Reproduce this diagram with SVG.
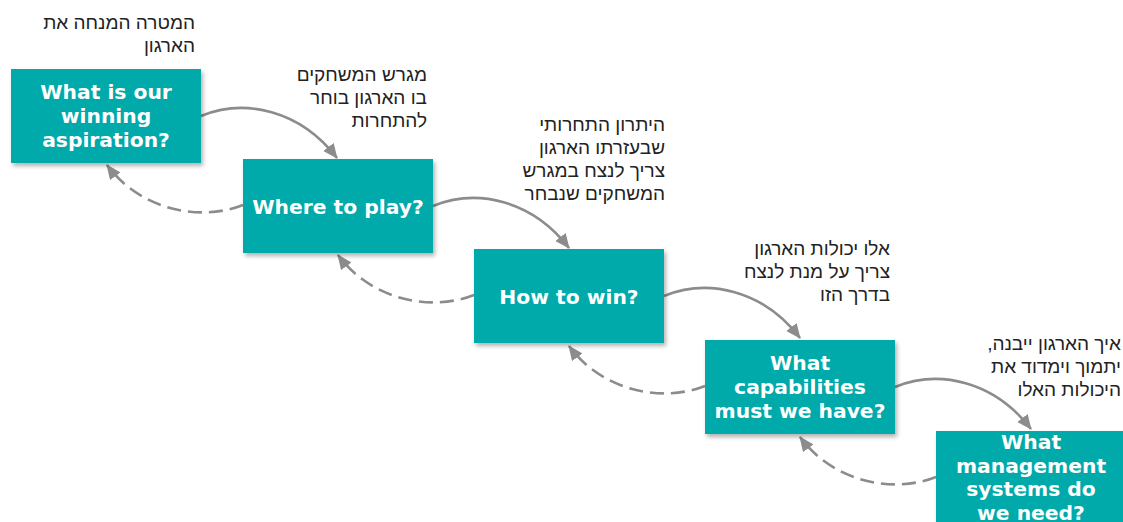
<svg xmlns="http://www.w3.org/2000/svg" width="1123" height="522" viewBox="0 0 1123 522">
<style>
.box{fill:#00AAAA;filter:url(#sh);}
.bt{font-family:"DejaVu Sans",Verdana,sans-serif;font-weight:bold;font-size:20.3px;fill:#fff;text-anchor:middle;}
.he{font-family:"Liberation Sans",Arial,sans-serif;font-size:19px;fill:#222;direction:rtl;text-anchor:start;unicode-bidi:embed;}
.fw{fill:none;stroke:#8C8C8C;stroke-width:2.6;marker-end:url(#ah);}
.bk{fill:none;stroke:#8C8C8C;stroke-width:2.6;stroke-dasharray:14 7;marker-end:url(#ah);}
</style>
<defs>
<filter id="sh" x="-10%" y="-10%" width="125%" height="130%">
<feDropShadow dx="2" dy="3" stdDeviation="2" flood-color="#000" flood-opacity="0.3"/>
</filter>
<marker id="ah" markerUnits="userSpaceOnUse" markerWidth="16" markerHeight="14" refX="14" refY="6.5" orient="auto">
<path d="M0,0 L15,6.5 L0,13 z" fill="#8C8C8C"/>
</marker>
</defs>

<g id="connectors">
<path class="fw" d="M201,116 C245,98 300,110 337,158"/>
<path class="fw" transform="translate(232,90)" d="M201,116 C245,98 300,110 337,158"/>
<path class="fw" transform="translate(463,180)" d="M201,116 C245,98 300,110 337,158"/>
<path class="fw" transform="translate(694,271)" d="M201,116 C245,98 300,110 337,158"/>
<path class="bk" d="M243,205 C200,222 140,210 107,165"/>
<path class="bk" transform="translate(231,90)" d="M243,205 C200,222 140,210 107,165"/>
<path class="bk" transform="translate(462,181)" d="M243,205 C200,222 140,210 107,165"/>
<path class="bk" transform="translate(693,272)" d="M243,205 C200,222 140,210 107,165"/>
</g>

<g id="node1">
<rect class="box" x="11" y="69" width="190" height="94"/>
<text class="bt" x="106"><tspan x="106" y="99">What is our</tspan><tspan x="106" y="123">winning</tspan><tspan x="106" y="147">aspiration?</tspan></text>
</g>
<g id="node2">
<rect class="box" x="243" y="159" width="190" height="94"/>
<text class="bt" x="338" y="214">Where to play?</text>
</g>
<g id="node3">
<rect class="box" x="474" y="249" width="190" height="94"/>
<text class="bt" x="569" y="304">How to win?</text>
</g>
<g id="node4">
<rect class="box" x="705" y="340" width="190" height="94"/>
<text class="bt"><tspan x="800" y="370">What</tspan><tspan x="800" y="394">capabilities</tspan><tspan x="800" y="418">must we have?</tspan></text>
</g>
<g id="node5">
<rect class="box" x="936" y="431" width="190" height="94"/>
<text class="bt"><tspan x="1031" y="449">What</tspan><tspan x="1031" y="473">management</tspan><tspan x="1031" y="496">systems do</tspan><tspan x="1031" y="520">we need?</tspan></text>
</g>

<g id="label1">
<text class="he"><tspan x="195" y="29">המטרה המנחה את</tspan><tspan x="195" y="52">הארגון</tspan></text>
</g>
<g id="label2">
<text class="he"><tspan x="427" y="81">מגרש המשחקים</tspan><tspan x="427" y="104">בו הארגון בוחר</tspan><tspan x="427" y="127">להתחרות</tspan></text>
</g>
<g id="label3">
<text class="he"><tspan x="665" y="131">היתרון התחרותי</tspan><tspan x="665" y="154">שבעזרתו הארגון</tspan><tspan x="665" y="177">צריך לנצח במגרש</tspan><tspan x="665" y="200">המשחקים שנבחר</tspan></text>
</g>
<g id="label4">
<text class="he"><tspan x="890" y="255">אלו יכולות הארגון</tspan><tspan x="890" y="278">צריך על מנת לנצח</tspan><tspan x="890" y="301">בדרך הזו</tspan></text>
</g>
<g id="label5">
<text class="he"><tspan x="1121" y="350">איך הארגון ייבנה,</tspan><tspan x="1121" y="373">יתמוך וימדוד את</tspan><tspan x="1121" y="396">היכולות האלו</tspan></text>
</g>
</svg>
